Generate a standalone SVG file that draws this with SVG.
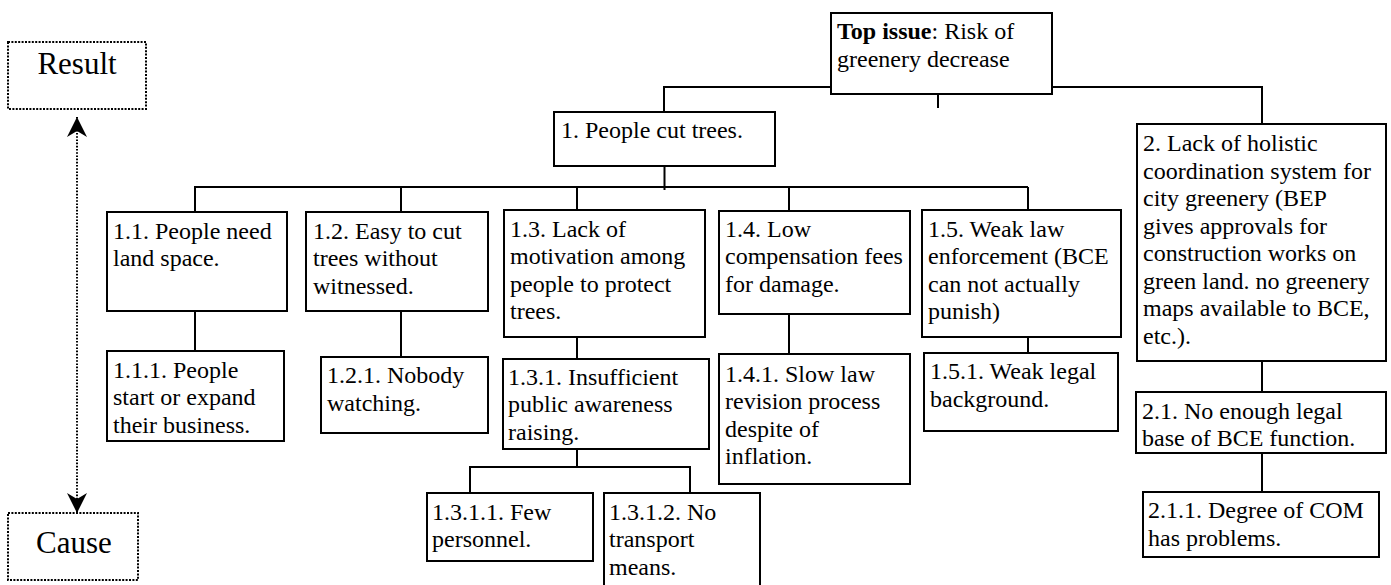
<svg xmlns="http://www.w3.org/2000/svg" width="1391" height="585" viewBox="0 0 1391 585">
  <style>
    .box { fill: #fff; stroke: #000; stroke-width: 2; }
    .dotbox { fill: #fff; stroke: #000; stroke-width: 2; stroke-dasharray: 2 1.4; }
    .t { font-family: "Liberation Serif", "Times New Roman", serif; font-size: 24px; fill: #000; }
    .big { font-size: 31px; }
    .conn path { fill: none; stroke: #000; stroke-width: 2; }
    .axis { fill: none; stroke: #000; stroke-width: 1.6; stroke-dasharray: 1.6 1.6; }
  </style>
  <defs>
    <marker id="head" viewBox="0 0 20 20" refX="20" refY="10" markerWidth="20" markerHeight="20" markerUnits="userSpaceOnUse" orient="auto-start-reverse">
      <path d="M0,0 L20,10 L0,20 L6,10 Z" fill="#000"/>
    </marker>
  </defs>
  <rect width="1391" height="585" fill="#fff"/>

  <!-- connectors -->
  <g id="connectors" class="conn">
    <path d="M664,112 V87 H831"/>
    <path d="M1052,87 H1262 V124"/>
    <path d="M938,94 V108"/>
    <path d="M664.5,166 V190"/>
    <path d="M194,187 H1028"/>
    <path d="M195,187 V212"/>
    <path d="M401,187 V212"/>
    <path d="M577,187 V210"/>
    <path d="M789,187 V211"/>
    <path d="M1028,187 V210"/>
    <path d="M195,311 V351"/>
    <path d="M401,311 V357"/>
    <path d="M577,337 V359"/>
    <path d="M577,449 V467"/>
    <path d="M470,493 V467 H690 V493"/>
    <path d="M789,314 V354"/>
    <path d="M1028,337 V353"/>
    <path d="M1262,361 V392"/>
    <path d="M1262,453 V492"/>
    <path class="axis" d="M77,117 V513" marker-start="url(#head)" marker-end="url(#head)"/>
  </g>

  <!-- legend -->
  <g id="result">
    <rect class="dotbox" x="8" y="42" width="138" height="67"/>
    <text class="t big" x="77" y="74" text-anchor="middle">Result</text>
  </g>
  <g id="cause">
    <rect class="dotbox" x="8" y="513" width="130" height="67"/>
    <text class="t big" x="74" y="553" text-anchor="middle">Cause</text>
  </g>

  <!-- nodes -->
  <g id="top">
    <rect class="box" x="831" y="13" width="221" height="81"/>
    <text class="t" x="837" y="39"><tspan font-weight="bold">Top issue</tspan>: Risk of<tspan x="837" dy="27.5">greenery decrease</tspan></text>
  </g>
  <g id="n1">
    <rect class="box" x="554" y="112" width="221" height="54"/>
    <text class="t" x="561" y="138">1. People cut trees.</text>
  </g>
  <g id="n1-1">
    <rect class="box" x="107" y="212" width="180" height="99"/>
    <text class="t" x="113" y="238.5">1.1. People need<tspan x="113" dy="27.5">land space.</tspan></text>
  </g>
  <g id="n1-1-1">
    <rect class="box" x="107" y="351" width="177" height="90"/>
    <text class="t" x="113" y="377.5">1.1.1. People<tspan x="113" dy="27.5">start or expand</tspan><tspan x="113" dy="27.5">their business.</tspan></text>
  </g>
  <g id="n1-2">
    <rect class="box" x="306" y="212" width="182" height="99"/>
    <text class="t" x="313" y="238.5">1.2. Easy to cut<tspan x="313" dy="27.5">trees without</tspan><tspan x="313" dy="27.5">witnessed.</tspan></text>
  </g>
  <g id="n1-2-1">
    <rect class="box" x="321" y="357" width="167" height="76"/>
    <text class="t" x="327" y="383">1.2.1. Nobody<tspan x="327" dy="27.5">watching.</tspan></text>
  </g>
  <g id="n1-3">
    <rect class="box" x="504" y="210" width="201" height="127"/>
    <text class="t" x="510" y="236.5">1.3. Lack of<tspan x="510" dy="27.5">motivation among</tspan><tspan x="510" dy="27.5">people to protect</tspan><tspan x="510" dy="27.5">trees.</tspan></text>
  </g>
  <g id="n1-3-1">
    <rect class="box" x="503" y="359" width="206" height="90"/>
    <text class="t" x="508" y="384.5">1.3.1. Insufficient<tspan x="508" dy="27.5">public awareness</tspan><tspan x="508" dy="27.5">raising.</tspan></text>
  </g>
  <g id="n1-3-1-1">
    <rect class="box" x="427" y="493" width="166" height="68"/>
    <text class="t" x="432" y="519.5">1.3.1.1. Few<tspan x="432" dy="27.5">personnel.</tspan></text>
  </g>
  <g id="n1-3-1-2">
    <rect class="box" x="604" y="493" width="156" height="100"/>
    <text class="t" x="609" y="519.5">1.3.1.2. No<tspan x="609" dy="27.5">transport</tspan><tspan x="609" dy="27.5">means.</tspan></text>
  </g>
  <g id="n1-4">
    <rect class="box" x="719" y="211" width="191" height="103"/>
    <text class="t" x="725" y="236.5">1.4. Low<tspan x="725" dy="27.5">compensation fees</tspan><tspan x="725" dy="27.5">for damage.</tspan></text>
  </g>
  <g id="n1-4-1">
    <rect class="box" x="719" y="354" width="191" height="130"/>
    <text class="t" x="725" y="381.5">1.4.1. Slow law<tspan x="725" dy="27.5">revision process</tspan><tspan x="725" dy="27.5">despite of</tspan><tspan x="725" dy="27.5">inflation.</tspan></text>
  </g>
  <g id="n1-5">
    <rect class="box" x="922" y="210" width="199" height="127"/>
    <text class="t" x="928" y="236.5">1.5. Weak law<tspan x="928" dy="27.5">enforcement (BCE</tspan><tspan x="928" dy="27.5">can not actually</tspan><tspan x="928" dy="27.5">punish)</tspan></text>
  </g>
  <g id="n1-5-1">
    <rect class="box" x="924" y="353" width="194" height="78"/>
    <text class="t" x="930" y="379">1.5.1. Weak legal<tspan x="930" dy="27.5">background.</tspan></text>
  </g>
  <g id="n2">
    <rect class="box" x="1137" y="124" width="249" height="237"/>
    <text class="t" x="1143" y="151">2. Lack of holistic<tspan x="1143" dy="27.5">coordination system for</tspan><tspan x="1143" dy="27.5">city greenery (BEP</tspan><tspan x="1143" dy="27.5">gives approvals for</tspan><tspan x="1143" dy="27.5">construction works on</tspan><tspan x="1143" dy="27.5">green land. no greenery</tspan><tspan x="1143" dy="27.5">maps available to BCE,</tspan><tspan x="1143" dy="27.5">etc.).</tspan></text>
  </g>
  <g id="n2-1">
    <rect class="box" x="1136" y="392" width="250" height="61"/>
    <text class="t" x="1142" y="418.5">2.1. No enough legal<tspan x="1142" dy="27.5">base of BCE function.</tspan></text>
  </g>
  <g id="n2-1-1">
    <rect class="box" x="1143" y="492" width="236" height="65"/>
    <text class="t" x="1148" y="518">2.1.1. Degree of COM<tspan x="1148" dy="27.5">has problems.</tspan></text>
  </g>
</svg>
